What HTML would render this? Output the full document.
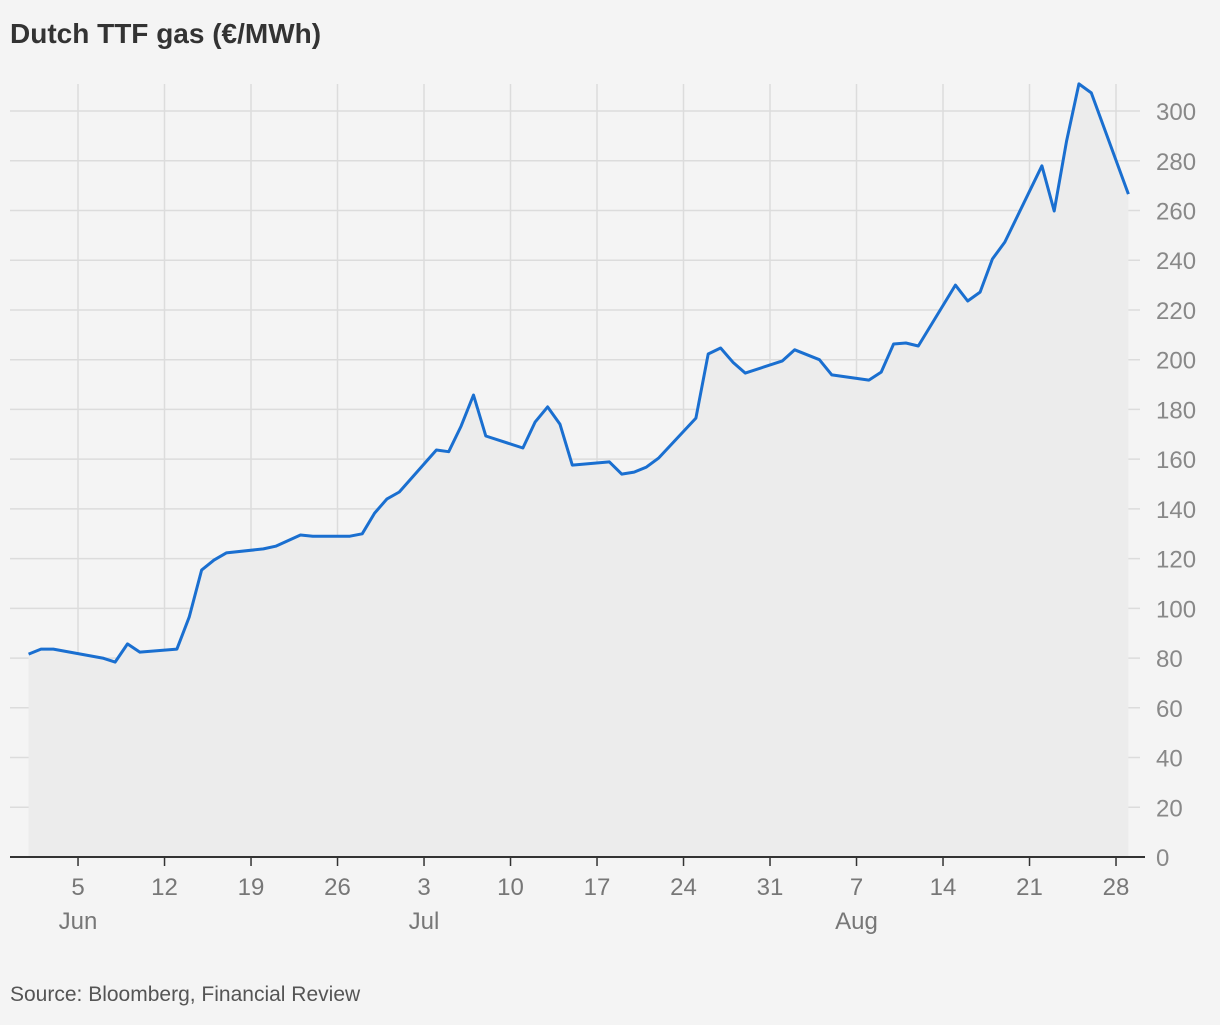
<!DOCTYPE html>
<html><head><meta charset="utf-8"><style>
body{margin:0;background:#f4f4f4;font-family:"Liberation Sans",sans-serif;}
svg text{font-family:"Liberation Sans",sans-serif;}
</style></head><body>
<svg width="1220" height="1020" xmlns="http://www.w3.org/2000/svg">
<rect width="1220" height="1020" fill="#f4f4f4"/>
<text x="10" y="43" font-size="28" font-weight="bold" fill="#333">Dutch TTF gas (€/MWh)</text>
<g id="grid"></g>
<path id="area" fill="#ececec"/>
<path id="line" fill="none" stroke="#1a6fd0" stroke-width="3" stroke-linejoin="round"/>
<g id="axes"></g>
<text x="10" y="1001" font-size="21" fill="#555">Source: Bloomberg, Financial Review</text>
</svg>
<script>
const days=[0,1,2,6,7,8,9,12,13,14,15,16,19,20,22,23,26,27,28,29,30,33,34,35,36,37,40,41,42,43,44,47,48,49,50,51,54,55,56,57,58,61,62,64,65,68,69,70,71,72,75,76,77,78,79,82,83,84,85,86,89];
const values=[81.6,83.6,83.6,80,78.4,85.7,82.4,83.6,96.5,115.4,119.4,122.3,123.9,125,129.5,129,129,130,138.3,144,146.8,163.7,163,173.3,185.8,169.3,164.5,175,181,174,157.6,158.9,154,154.8,156.8,160.5,176.5,202.3,204.7,199,194.6,199.5,204,200,193.9,191.8,195,206.3,206.7,205.5,230,223.6,227.2,240.5,247.3,278,259.8,288,310.9,307.3,266.6];
const xTickDays=[4,11,18,25,32,39,46,53,60,67,74,81,88];
const xTickLabels=["5","12","19","26","3","10","17","24","31","7","14","21","28"];
const monthLabels=[["Jun",4],["Jul",32],["Aug",67]];
const yTicks=[0,20,40,60,80,100,120,140,160,180,200,220,240,260,280,300];
const NS="http://www.w3.org/2000/svg";
const x=d=>28.6+d*12.357;
const y=v=>857-v*2.4865;
const grid=document.getElementById('grid'),axes=document.getElementById('axes');
function mk(tag,attrs,parent){const e=document.createElementNS(NS,tag);for(const k in attrs)e.setAttribute(k,attrs[k]);parent.appendChild(e);return e;}
yTicks.forEach(v=>{
 if(v>0){const l=mk('line',{x1:10,x2:1140,y1:y(v),y2:y(v),stroke:'#dcdcdc','stroke-width':1.5},grid);
 
 }
 const t=mk('text',{x:1156,y:y(v)+9,'font-size':24,fill:'#888'},axes);t.textContent=v;
 
 
});
xTickDays.forEach((d,i)=>{
 const l=mk('line',{x1:x(d),x2:x(d),y1:84,y2:857,stroke:'#dcdcdc','stroke-width':1.5},grid);
 
 
 mk('line',{x1:x(d),x2:x(d),y1:857,y2:866,stroke:'#333','stroke-width':1.5},axes);
 const t=mk('text',{x:x(d),y:895,'font-size':24,fill:'#777','text-anchor':'middle'},axes);t.textContent=xTickLabels[i];
 
 
});
monthLabels.forEach(m=>{
 const t=mk('text',{x:x(m[1]),y:929,'font-size':24,fill:'#777','text-anchor':'middle'},axes);t.textContent=m[0];
 
 
});
const ax=mk('line',{x1:10,x2:1145,y1:857,y2:857,stroke:'#333','stroke-width':2},axes);


let p=days.map((d,i)=>(i?'L':'M')+x(d).toFixed(1)+','+y(values[i]).toFixed(1)).join(' ');
document.getElementById('line').setAttribute('d',p);
document.getElementById('area').setAttribute('d',p+` L${x(days[days.length-1])},857 L${x(days[0])},857 Z`);
</script>
</body></html>
